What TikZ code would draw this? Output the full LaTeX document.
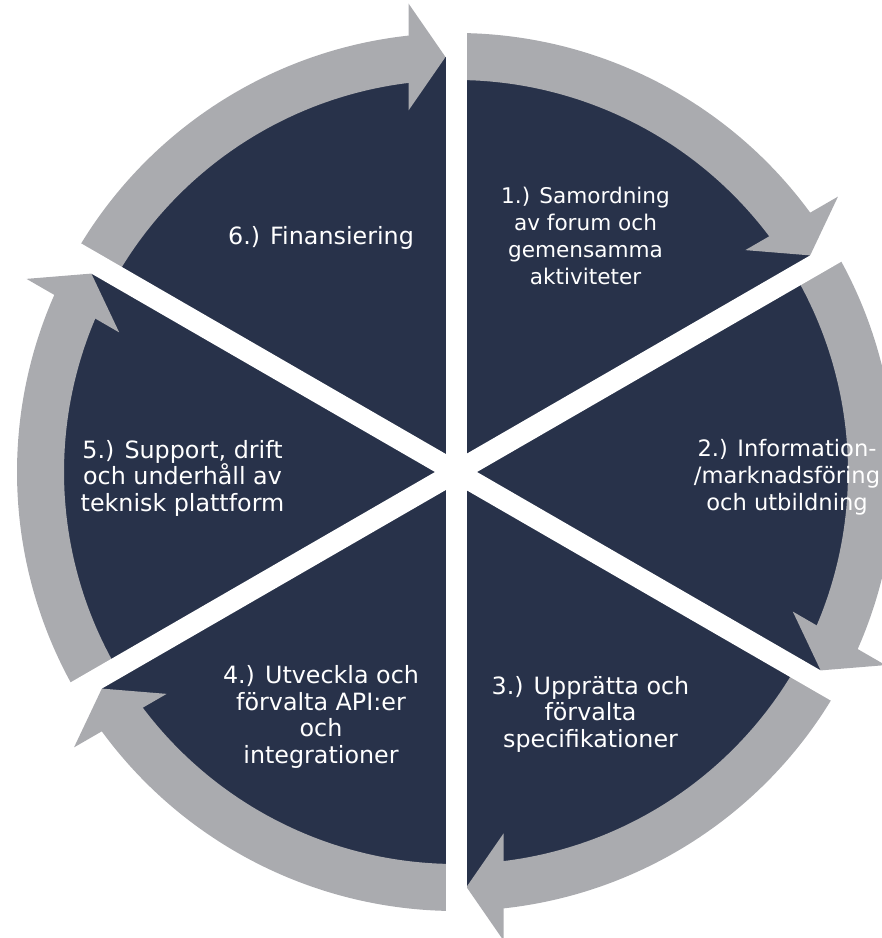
\documentclass[tikz,border=0pt]{standalone}
\usepackage{fontspec}
\setmainfont{DejaVu Sans}
\usetikzlibrary{calc}
\definecolor{navy}{HTML}{28324A}
\definecolor{ringgray}{HTML}{AAABAF}
\tikzset{
  lbl/.style={text=white, align=center, inner sep=0pt, font=\fontsize{23.8}{26.5}\selectfont},
  gap/.style={draw=white, line width=21pt},
}
\begin{document}
\begin{tikzpicture}[x=1pt,y=1pt]
\clip (0,0) rectangle (882,938);
\coordinate (C) at (456,466);
\fill[navy] (C) circle (415);
\foreach \a in {90,30,-30,-90,-150,-210}{
  \pgfmathsetmacro{\b}{\a-60}
  \pgfmathsetmacro{\e}{\a-54.5}
  \pgfmathsetmacro{\n}{\b+90}
  \fill[ringgray] ($(C)+(\a:439)$) arc[start angle=\a, end angle=\e, radius=439]
     -- ($(C)+(\e:392)$) arc[start angle=\e, end angle=\a, radius=392] -- cycle;
  \fill[ringgray] ($(C)+(\b:415)+(\n:10.5)$)
     -- ($(C)+(\b:468.5)+(\n:47.5)$)
     -- ($(C)+(\b:361.5)+(\n:47.5)$) -- cycle;
}
\foreach \a in {90,30,150}{
  \draw[gap] ($(C)+(\a:450)$) -- ($(C)+(\a+180:450)$);
}
\node[lbl, font=\fontsize{21.6}{27.2}\selectfont] (t1) at (585.5,702) {1.) Samordning\\av forum och\\gemensamma\\aktiviteter};
\node[lbl, font=\fontsize{22.6}{27}\selectfont] (t2) at (787,461) {2.) Information-\\/marknadsföring\\och utbildning};
\node[lbl] (t3) at (590.5,224) {3.) Upprätta och\\förvalta\\specifikationer};
\node[lbl] (t4) at (321,221) {4.) Utveckla och\\förvalta API:er\\och\\integrationer};
\node[lbl] (t5) at (182.5,460) {5.) Support, drift\\och underhåll av\\teknisk plattform};
\node[lbl] (t6) at (321,700) {6.) Finansiering};
\end{tikzpicture}
\end{document}
